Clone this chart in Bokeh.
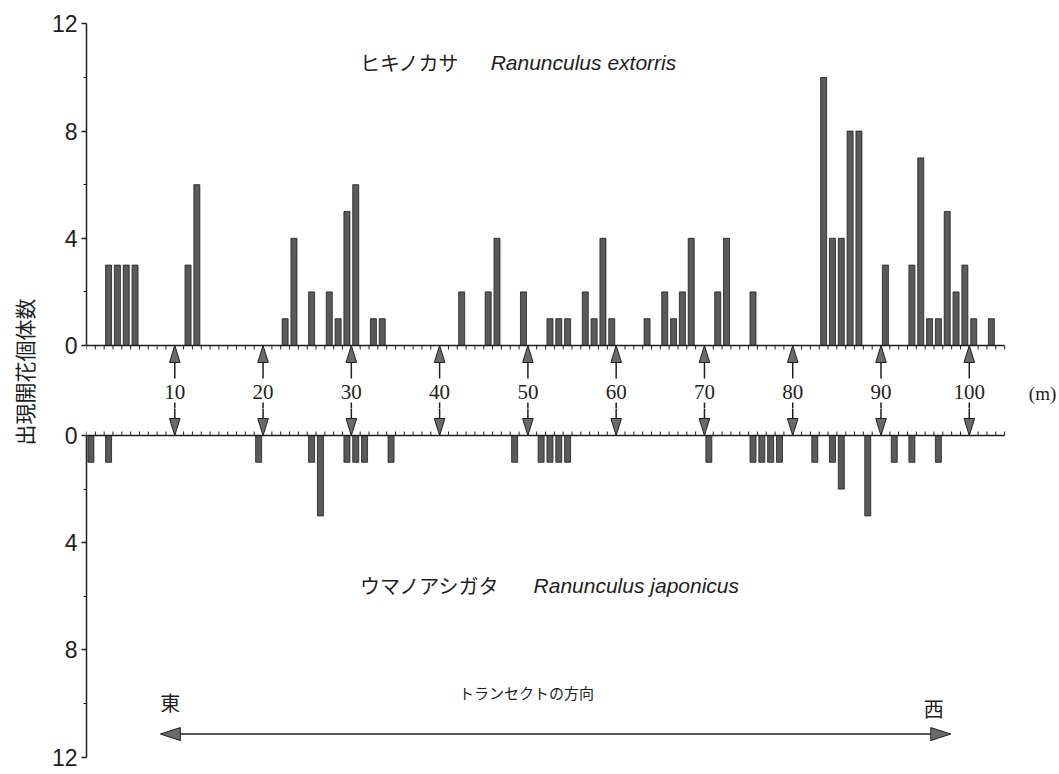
import numpy as np
from bokeh.plotting import figure
from bokeh.models import Range1d, LinearAxis, FixedTicker
from bokeh.layouts import row, column
from bokeh.core.properties import value
from bokeh.embed import file_html
from bokeh.resources import INLINE

# ---------------- data ----------------
# start of each 1 m quadrat (m) and number of flowering individuals
upper_start = [2, 3, 4, 5, 11, 12, 22, 23, 25, 27, 28, 29, 30, 32, 33, 42, 45, 46, 49,
               52, 53, 54, 56, 57, 58, 59, 63, 65, 66, 67, 68, 71, 72, 75, 83, 84, 85,
               86, 87, 90, 93, 94, 95, 96, 97, 98, 99, 100, 102]
upper_count = [3, 3, 3, 3, 3, 6, 1, 4, 2, 2, 1, 5, 6, 1, 1, 2, 2, 4, 2,
               1, 1, 1, 2, 1, 4, 1, 1, 2, 1, 2, 4, 2, 4, 2, 10, 4, 4,
               8, 8, 3, 3, 7, 1, 1, 5, 2, 3, 1, 1]
lower_start = [0, 2, 19, 25, 26, 29, 30, 31, 34, 48, 51, 52, 53, 54, 70, 75, 76, 77, 78,
               82, 84, 85, 88, 91, 93, 96]
lower_count = [1, 1, 1, 1, 3, 1, 1, 1, 1, 1, 1, 1, 1, 1, 1, 1, 1, 1, 1,
               1, 1, 2, 3, 1, 1, 1]
distance_marks = [10, 20, 30, 40, 50, 60, 70, 80, 90, 100]
distance_labels = ["10", "20", "30", "40", "50", "60", "70", "80", "90", "100"]
y_ticks = [0, 4, 8, 12]
y_minor = [2, 6, 10]
transect_end = 104

upper_name_jp = "ヒキノカサ"
upper_name_la = "Ranunculus extorris"
lower_name_jp = "ウマノアシガタ"
lower_name_la = "Ranunculus japonicus"
y_title = "出現開花個体数"

# ---------------- layout constants (page px) ----------------
W, H = 1058, 772
LW = 48                 # label strip width
BORDER_L = 36
PXM = 8.846             # px per metre
UNIT = 26.8             # px per individual
FRAME_W = W - LW - BORDER_L
XMAX = FRAME_W / PXM
T_TOP = 12
T_H = 408
UP0 = 345               # upper baseline
LO0 = 435               # lower baseline
B_BOT = 6
G = (LO0 - UP0) / UNIT

INK = "#1e1e1e"
BAR_FILL = "#5a5a5a"
HEAD_FILL = "#6a6a6a"
JP = value("Noto Sans CJK JP")
SANS = value("Liberation Sans")
SERIF = value("Liberation Serif")

x_range = Range1d(0, XMAX)


def style_axis(ax):
    ax.bounds = (0, 12)
    ax.ticker = FixedTicker(ticks=y_ticks, minor_ticks=y_minor)
    ax.axis_line_color = INK
    ax.axis_line_width = 1.5
    ax.major_tick_line_color = INK
    ax.major_tick_line_width = 1.3
    ax.minor_tick_line_color = INK
    ax.major_tick_out = 5
    ax.major_tick_in = 0
    ax.minor_tick_out = 3
    ax.minor_tick_in = 0
    ax.major_label_standoff = 4
    ax.major_label_text_font = "Liberation Sans"
    ax.major_label_text_font_size = "23px"
    ax.major_label_text_color = INK


def base_fig(width, height, xr, yr, top, bottom, left):
    f = figure(width=width, height=height, x_range=xr, y_range=yr,
               output_backend="svg", toolbar_location=None,
               x_axis_location=None, y_axis_location=None,
               min_border_left=left, min_border_right=0,
               min_border_top=top, min_border_bottom=bottom,
               outline_line_color=None, background_fill_color="white",
               border_fill_color="white")
    f.xgrid.visible = False
    f.ygrid.visible = False
    return f


# ---------------- upper figure ----------------
t = base_fig(W - LW, T_H, x_range,
             Range1d(-(T_H - UP0) / UNIT, (UP0 - T_TOP) / UNIT), T_TOP, 0, BORDER_L)
ax_t = LinearAxis()
style_axis(ax_t)
t.add_layout(ax_t, "left")

# ---------------- lower figure ----------------
b = base_fig(W - LW, H - T_H, x_range,
             Range1d((H - B_BOT - LO0) / UNIT, -(LO0 - T_H) / UNIT), 0, B_BOT, BORDER_L)
ax_b = LinearAxis()
style_axis(ax_b)
b.add_layout(ax_b, "left")

BAR_W = 0.68
t.vbar(x=np.array(upper_start) + 0.5, width=BAR_W, bottom=0, top=upper_count,
       fill_color=BAR_FILL, line_color=INK, line_width=0.8)
b.vbar(x=np.array(lower_start) + 0.5, width=BAR_W, bottom=0, top=lower_count,
       fill_color=BAR_FILL, line_color=INK, line_width=0.8)

# baselines with metre ticks
metre_ticks = np.arange(0, transect_end + 1)
TICK = 4 / UNIT
for f in (t, b):
    f.segment(x0=[0], y0=[0], x1=[transect_end], y1=[0], line_color=INK, line_width=1.5)
    f.segment(x0=metre_ticks, y0=0, x1=metre_ticks, y1=-TICK, line_color=INK, line_width=1)

# double arrows between the baselines (upper-figure coordinates, drawn in both)
HEAD_L = 17 / UNIT
HW = 5.3 / PXM
SH1_END = -33 / UNIT
SH2_START = -57 / UNIT
LBL_Y = -46.5 / UNIT


def draw_gap_arrows(f, conv):
    xs = np.array(distance_marks, dtype=float)
    n = len(xs)
    f.segment(x0=xs, y0=conv(-HEAD_L), x1=xs, y1=conv(SH1_END), line_color=INK, line_width=1.5)
    f.segment(x0=xs, y0=conv(SH2_START), x1=xs, y1=conv(-G + HEAD_L), line_color=INK, line_width=1.5)
    f.patches(xs=[[x - HW, x, x + HW] for x in xs],
              ys=[[conv(-HEAD_L), conv(0.0), conv(-HEAD_L)]] * n,
              fill_color=HEAD_FILL, line_color=INK, line_width=1)
    f.patches(xs=[[x - HW, x, x + HW] for x in xs],
              ys=[[conv(-G + HEAD_L), conv(-G), conv(-G + HEAD_L)]] * n,
              fill_color=HEAD_FILL, line_color=INK, line_width=1)


draw_gap_arrows(t, lambda y: y)
draw_gap_arrows(b, lambda y: -G - y)

t.text(x=distance_marks, y=LBL_Y, text=distance_labels, text_font=SERIF,
       text_font_size="21px", text_align="center", text_baseline="middle", text_color=INK)
t.text(x=[108.3], y=[-48 / UNIT], text=["(m)"], text_font=SERIF,
       text_font_size="19px", text_align="center", text_baseline="middle", text_color=INK)

# species names
t.text(x=[30.97], y=[10.56], text=[upper_name_jp], text_font=JP, text_font_size="20px",
       text_align="left", text_baseline="middle", text_color=INK)
t.text(x=[45.78], y=[10.56], text=[upper_name_la], text_font=SANS, text_font_style="italic",
       text_font_size="21px", text_align="left", text_baseline="middle", text_color=INK)
b.text(x=[30.97], y=[5.60], text=[lower_name_jp], text_font=JP, text_font_size="20px",
       text_align="left", text_baseline="middle", text_color=INK)
b.text(x=[50.64], y=[5.60], text=[lower_name_la], text_font=SANS, text_font_style="italic",
       text_font_size="21px", text_align="left", text_baseline="middle", text_color=INK)

# transect direction
b.text(x=[49.85], y=[9.59], text=["トランセクトの方向"], text_font=JP, text_font_size="15px",
       text_align="center", text_baseline="middle", text_color=INK)
b.text(x=[9.5], y=[9.96], text=["東"], text_font=JP, text_font_size="20px",
       text_align="center", text_baseline="middle", text_color=INK)
b.text(x=[95.98], y=[10.17], text=["西"], text_font=JP, text_font_size="20px",
       text_align="center", text_baseline="middle", text_color=INK)
ARR_Y = 11.14
ARR_L, ARR_R = 8.37, 97.9
AH_L = 20 / PXM
AH_H = 6.5 / UNIT
b.segment(x0=[ARR_L + AH_L], y0=[ARR_Y], x1=[ARR_R - AH_L], y1=[ARR_Y], line_color=INK, line_width=1.5)
b.patches(xs=[[ARR_L + AH_L, ARR_L, ARR_L + AH_L], [ARR_R - AH_L, ARR_R, ARR_R - AH_L]],
          ys=[[ARR_Y - AH_H, ARR_Y, ARR_Y + AH_H]] * 2,
          fill_color=HEAD_FILL, line_color=INK, line_width=1)

# ---------------- y title strip ----------------
lf = base_fig(LW, H, Range1d(0, LW), Range1d(0, H), 0, 0, 0)
lf.text(x=[23], y=[H - 371.5], text=[y_title], angle=np.pi / 2, text_font=JP,
        text_font_size="21px", text_align="center", text_baseline="middle", text_color=INK)

layout = row(lf, column(t, b))
open("out.html", "w").write(file_html(layout, INLINE))
